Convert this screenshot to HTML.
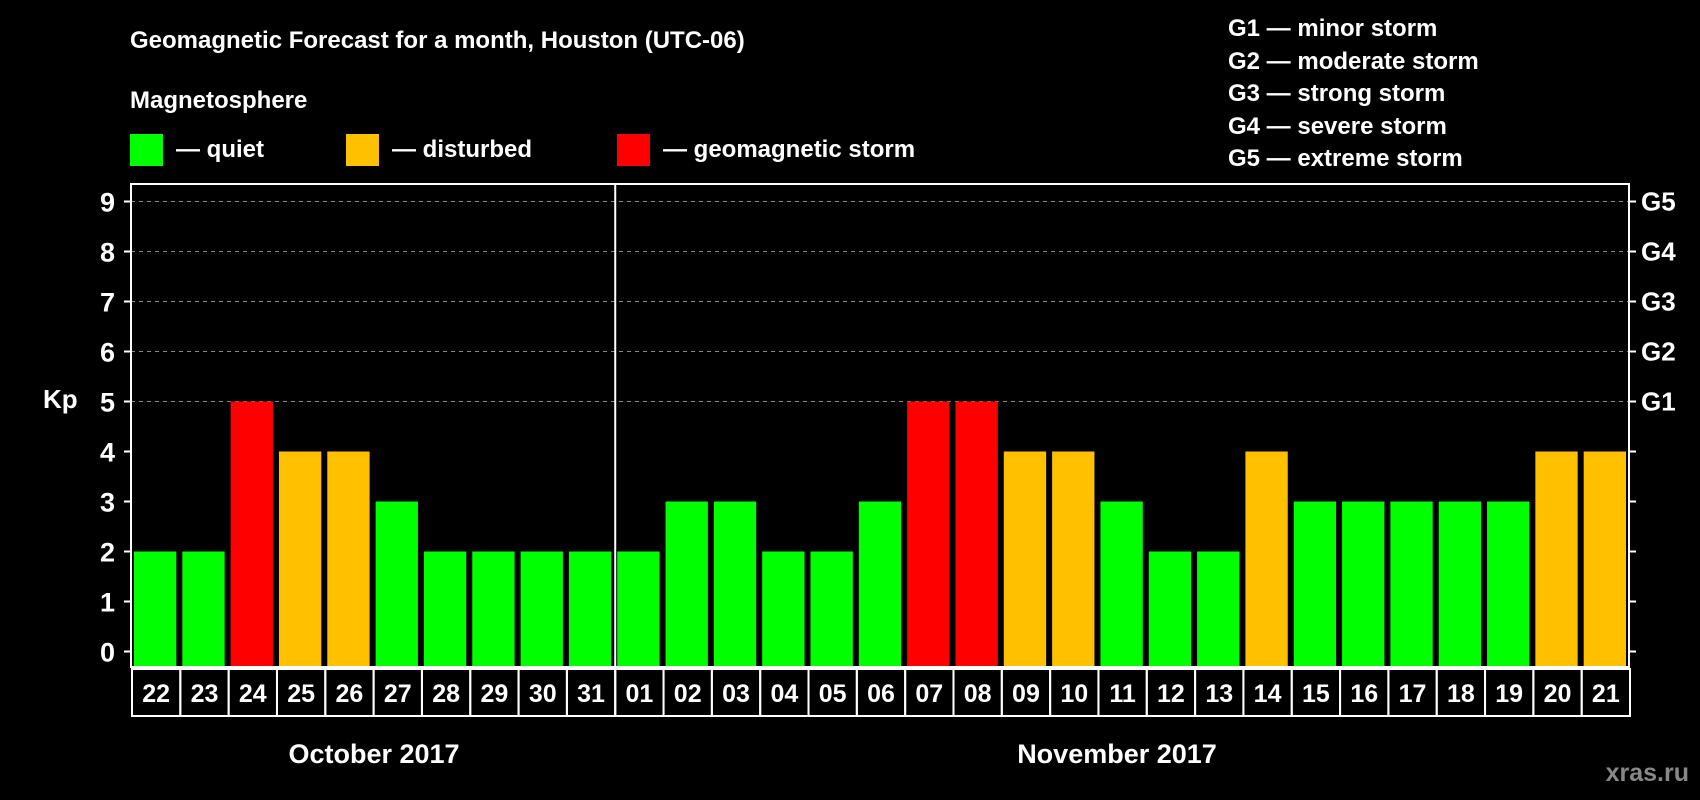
<!DOCTYPE html>
<html><head><meta charset="utf-8"><style>
html,body{margin:0;padding:0;background:#000;}
svg{display:block;font-family:"Liberation Sans",Arial,sans-serif;font-weight:bold;}
</style></head><body>
<svg id="c" width="1700" height="800" viewBox="0 0 1700 800" xmlns="http://www.w3.org/2000/svg">
<rect width="1700" height="800" fill="#000"/>
<text x="130" y="48" fill="#fff" font-size="24">Geomagnetic Forecast for a month, Houston (UTC-06)</text>
<text x="130" y="108" fill="#fff" font-size="24">Magnetosphere</text>
<rect x="130" y="134" width="33" height="32" fill="#00ff00"/>
<text x="176" y="157" fill="#fff" font-size="24">— quiet</text>
<rect x="346" y="134" width="33" height="32" fill="#ffc000"/>
<text x="392" y="157" fill="#fff" font-size="24">— disturbed</text>
<rect x="617" y="134" width="33" height="32" fill="#ff0000"/>
<text x="663" y="157" fill="#fff" font-size="24">— geomagnetic storm</text>
<g fill="#fff" font-size="24">
<text x="1228" y="36">G1 — minor storm</text>
<text x="1228" y="69">G2 — moderate storm</text>
<text x="1228" y="101">G3 — strong storm</text>
<text x="1228" y="134">G4 — severe storm</text>
<text x="1228" y="166">G5 — extreme storm</text>
</g>
<text x="43" y="408" fill="#fff" font-size="26">Kp</text>
<text x="374" y="763" fill="#fff" font-size="27" text-anchor="middle">October 2017</text>
<text x="1117" y="763" fill="#fff" font-size="27" text-anchor="middle">November 2017</text>
<text x="1689" y="781" fill="#888" font-size="25" text-anchor="end">xras.ru</text>
<g id="plot"></g>
</svg>
<script>
const days = ["22","23","24","25","26","27","28","29","30","31","01","02","03","04","05","06","07","08","09","10","11","12","13","14","15","16","17","18","19","20","21"];
const kpValues = [2,2,5,4,4,3,2,2,2,2,2,3,3,2,2,3,5,5,4,4,3,2,2,4,3,3,3,3,3,4,4];
const yTicks = [0,1,2,3,4,5,6,7,8,9];
const gLabels = ["G1","G2","G3","G4","G5"];
const gLevels = [5,6,7,8,9];
const monthBreakIndex = 10;

const NS="http://www.w3.org/2000/svg";
const g=document.getElementById('plot');
const L=131,R=1629,T=184,B=667,Y0=651.5,UNIT=50;
const slot=(R-L)/days.length;
const y=v=>Y0-v*UNIT;
const xs=i=>L+i*slot;
function mk(tag,attrs){const e=document.createElementNS(NS,tag);for(const k in attrs)e.setAttribute(k,attrs[k]);g.appendChild(e);return e;}
// grid
gLevels.forEach(v=>{
  const e=mk('line',{x1:L,x2:R,y1:y(v),y2:y(v),stroke:'#888','stroke-dasharray':'4 4','stroke-width':1});
  
  
});
// bars
kpValues.forEach((v,i)=>{
  const col=v>=5?'#ff0000':(v>=4?'#ffc000':'#00ff00');
  const e=mk('rect',{x:xs(i)+3,y:y(v),width:slot-6,height:B-y(v),fill:col});
  
  
});
// frame
const fr=mk('rect',{x:L,y:T,width:R-L,height:B-T,fill:'none',stroke:'#fff','stroke-width':2});


// y ticks
yTicks.forEach(v=>{
  mk('line',{x1:L-7,x2:L,y1:y(v),y2:y(v),stroke:'#fff','stroke-width':2});
  mk('line',{x1:R,x2:R+7,y1:y(v),y2:y(v),stroke:'#fff','stroke-width':2});
  const t=mk('text',{x:L-16,y:y(v)+10,fill:'#fff','font-size':27,'text-anchor':'end'});
  t.textContent=v;
  
  
});
gLevels.forEach((v,i)=>{
  const t=mk('text',{x:R+12,y:y(v)+9,fill:'#fff','font-size':26});
  t.textContent=gLabels[i];
  
  
});
// date boxes
days.forEach((d,i)=>{
  const r=mk('rect',{x:xs(i)+1,y:B+2,width:slot,height:47,fill:'none',stroke:'#fff','stroke-width':2});
  
  
  const t=mk('text',{x:xs(i)+slot/2+1,y:B+35,fill:'#fff','font-size':25,'text-anchor':'middle'});
  t.textContent=d;
  
  
});
const dv=mk('line',{x1:xs(monthBreakIndex)+1,x2:xs(monthBreakIndex)+1,y1:T,y2:B+49,stroke:'#fff','stroke-width':2});


</script>
</body></html>
